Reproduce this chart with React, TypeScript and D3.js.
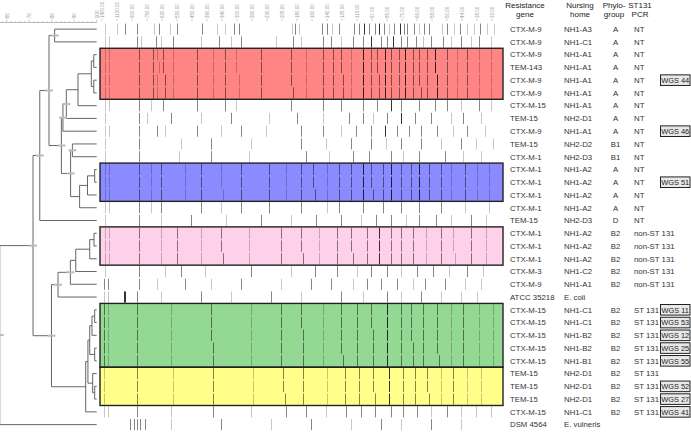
import React from "react";
import * as d3 from "d3";

const W = 691;
const H = 433;
const FONT = "'Liberation Sans', Arial, Helvetica, sans-serif";

// ---- table data ----
const genes = ["CTX-M-9","CTX-M-9","CTX-M-9","TEM-143","CTX-M-9","CTX-M-9","CTX-M-15","TEM-15","CTX-M-9","TEM-15","CTX-M-1","CTX-M-1","CTX-M-1","CTX-M-1","CTX-M-1","TEM-15","CTX-M-1","CTX-M-1","CTX-M-1","CTX-M-3","CTX-M-9","ATCC 35218","CTX-M-15","CTX-M-15","CTX-M-15","CTX-M-15","CTX-M-15","TEM-15","TEM-15","TEM-15","CTX-M-15","DSM 4564"];
const homes = ["NH1-A3","NH1-C1","NH1-A1","NH1-A1","NH1-A1","NH1-A1","NH1-A1","NH2-D1","NH1-A1","NH2-D2","NH2-D3","NH1-A2","NH1-A2","NH1-A2","NH1-A2","NH2-D3","NH1-A2","NH1-A2","NH1-A2","NH1-C2","NH1-A1","E. coli","NH1-C1","NH1-C1","NH1-B2","NH1-B2","NH1-B1","NH2-D1","NH2-D1","NH2-D1","NH1-C1","E. vulneris"];
const phylo = ["A","A","A","A","A","A","A","A","A","B1","B1","A","A","A","A","D","B2","B2","B2","B2","B2","","B2","B2","B2","B2","B2","B2","B2","B2","B2",""];
const st131 = ["NT","NT","NT","NT","NT","NT","NT","NT","NT","NT","NT","NT","NT","NT","NT","NT","non-ST 131","non-ST 131","non-ST 131","non-ST 131","non-ST 131","","ST 131","ST 131","ST 131","ST 131","ST 131","ST 131","ST 131","ST 131","ST 131",""];
const wgs = ["","","","","WGS 44","","","","WGS 46","","","","WGS 51","","","","","","","","","","WGS 11","WGS 53","WGS 12","WGS 25","WGS 55","","WGS 52","WGS 27","WGS 41",""];

// coloured cluster boxes: [first row, last row, fill] (1-based rows)
const clusterBoxes: [number, number, string][] = [
  [3, 6, "#ff8585"],
  [12, 14, "#8b8bff"],
  [17, 19, "#ffd0ea"],
  [23, 27, "#93d993"],
  [28, 30, "#ffff8a"],
];

// ---- dendrogram merges: [node id, left, right, % similarity] ----
const merges: [string, string | number, string | number, number][] = [
  ["a", 1, 2, 81.3],
  ["r1", 3, 4, 98.7],
  ["r2", 5, 6, 98.7],
  ["r3", "r1", "r2", 97.6],
  ["r4", "r3", 7, 91.7],
  ["r5", "r4", 8, 86.5],
  ["r6", "r5", 9, 85.0],
  ["b1", 10, 11, 89.2],
  ["u1", 12, 13, 99.1],
  ["u2", "u1", 14, 95.9],
  ["u3", "u2", 15, 92.4],
  ["b2", "b1", "u3", 88.4],
  ["c1", "r6", "b2", 84.3],
  ["c2", "a", "c1", 78.8],
  ["c3", "c2", 16, 74.7],
  ["p1", 17, 18, 98.8],
  ["p2", "p1", 19, 96.9],
  ["p3", "p2", 20, 90.7],
  ["p4", "p3", 21, 88.3],
  ["p5", "p4", 22, 82.8],
  ["g1", 23, 24, 99.1],
  ["g2", "g1", 25, 97.9],
  ["g3", 26, 27, 99.1],
  ["g4", "g2", "g3", 96.9],
  ["y1", 29, 30, 99.1],
  ["y2", 28, "y1", 98.2],
  ["gy", "g4", "y2", 96.1],
  ["gy2", "gy", 31, 95.1],
  ["d1", "p5", "gy2", 79.9],
  ["c4", "c3", "d1", 71.7],
  ["root", "c4", 32, 56.9],
];

const simTicks = [60, 70, 80, 90, 100];

// gel header size-marker labels
const gelLabels = ["1400.00","1100.00","900.00","750.00","620.00","520.00","450.00","390.00","340.00","300.00","260.00","230.00","205.00","180.00","160.00","140.00","125.00","110.00","97.00","85.00","75.00","66.00","58.00","50.00","44.00","38.00","33.00"];

// band positions (migration units 0-400) with intensity (1-3)
const bands = [
  "4:1 16:1 24:2 36:2 53:1 58:2 69:1 76:2 101:2 116:1 124:1 133:2 138:2 191:1 194:2 198:1 221:2 226:2 231:1 238:2 253:2 258:2 263:3 268:2 274:2 278:3 283:2 288:1 293:2 299:3 303:2 306:2 313:2 318:1 323:2 328:2 341:1 346:2 353:1 359:2 366:1 373:1 379:2 386:1 393:1",
  "4:1 8:1 36:2 40:1 55:2 60:1 72:2 100:1 118:2 130:1 140:2 175:1 192:2 200:1 222:2 230:2 240:1 252:2 262:2 270:3 280:2 286:2 292:3 300:2 306:2 315:2 322:1 330:2 342:2 350:1 360:2 370:1 378:2 390:1",
  "4:1 8:1 38:2 52:2 56:1 62:2 72:1 96:2 112:1 124:2 135:1 160:2 190:2 205:1 222:2 232:2 240:2 250:1 262:3 270:2 276:2 284:3 290:2 298:2 304:3 312:2 318:2 326:2 334:3 346:2 356:1 366:2 378:1 390:1",
  "4:1 8:1 38:2 52:2 58:1 62:2 72:1 96:2 112:1 124:2 135:1 160:2 190:2 205:1 222:2 232:2 240:2 250:1 262:3 270:2 276:2 284:3 290:2 298:2 304:3 312:2 318:2 326:2 334:3 346:2 356:1 366:2 378:1 390:1",
  "4:1 8:1 38:2 52:2 56:1 64:2 72:1 96:2 112:1 124:2 138:1 160:2 190:2 205:1 222:2 232:2 242:2 250:1 262:3 270:2 278:2 284:3 290:2 298:2 304:3 312:2 318:2 326:2 336:3 346:2 356:1 366:2 378:1 390:1",
  "4:1 8:1 38:2 52:2 56:1 64:2 72:1 96:2 112:1 124:2 138:1 160:2 192:2 205:1 222:2 232:2 242:2 250:1 262:3 270:2 278:2 284:3 290:2 298:2 304:3 312:2 320:2 326:2 336:3 346:2 356:1 366:2 378:1 390:1",
  "4:1 8:1 38:2 50:1 62:2 96:2 124:2 135:1 190:2 222:2 240:2 262:2 276:2 290:3 300:2 318:2 334:2 346:2 360:1 378:2 390:1",
  "4:1 38:2 46:1 70:2 100:1 130:2 168:1 196:2 222:1 248:2 262:2 272:1 286:2 300:3 314:2 330:2 350:1 362:2 380:1",
  "4:1 8:1 38:2 56:2 64:1 96:2 120:1 140:2 165:1 200:2 222:2 240:1 255:2 270:2 284:3 296:2 308:2 320:2 336:2 352:1 366:2 384:1",
  "4:1 38:2 80:1 110:2 150:1 200:2 225:1 250:2 270:2 285:1 300:2 320:2 340:1 360:2 375:1 392:1",
  "4:1 38:2 78:1 110:2 148:1 205:2 228:1 252:2 268:2 290:2 302:1 318:2 344:2 362:1 380:1",
  "4:1 8:1 38:2 50:1 60:2 84:1 100:2 120:1 140:2 168:2 185:1 200:2 212:2 226:1 238:2 250:2 262:3 270:2 282:2 290:3 300:2 310:2 318:3 328:2 340:2 350:1 364:2 376:1 388:1",
  "4:1 8:1 38:2 50:1 60:2 84:1 100:2 120:1 140:2 168:2 185:1 200:2 212:2 226:1 238:2 250:2 262:3 270:2 282:2 290:3 300:2 310:2 318:3 328:2 340:2 350:1 364:2 376:1 388:1",
  "4:1 8:1 38:2 50:1 60:2 84:1 100:2 122:1 140:2 168:2 185:1 200:2 214:2 226:1 238:2 250:2 262:3 272:2 282:2 290:3 300:2 310:2 318:3 328:2 340:2 350:1 364:2 376:1 388:1",
  "4:1 8:1 38:2 50:1 60:2 100:2 120:1 140:2 168:2 200:2 226:1 238:2 262:2 282:2 300:2 318:2 340:2 364:1 388:1",
  "4:1 38:2 60:1 90:2 125:1 160:2 190:1 215:2 240:2 260:1 275:2 290:2 305:1 318:2 335:2 350:1 370:2 385:1",
  "4:1 8:1 38:2 60:1 76:2 100:1 120:2 148:1 180:2 200:2 218:1 236:2 250:2 266:2 278:3 290:2 300:2 312:2 325:1 340:2 352:1 370:2 385:1",
  "4:1 8:1 38:2 60:1 76:2 100:1 120:2 148:1 180:2 200:2 218:1 236:2 250:2 266:2 278:3 290:2 300:2 312:2 325:1 340:2 352:1 370:2 385:1",
  "4:1 8:1 38:2 60:1 76:2 100:1 122:2 148:1 180:2 202:2 218:1 236:2 252:2 266:2 278:3 290:2 300:2 312:2 325:1 340:2 354:1 370:2 385:1",
  "4:1 38:2 64:1 80:2 104:1 150:2 190:1 214:2 236:2 256:1 270:2 286:2 300:1 316:2 332:2 348:1 366:2 382:1",
  "3:2 7:2 38:2 56:1 84:2 110:1 140:2 180:1 210:2 230:2 252:1 266:2 280:2 296:2 312:1 324:2 344:2 364:1 380:1",
  "3:1 7:1 23:3 24:3 36:2 60:1 100:2 130:1 170:2 200:1 240:2 262:1 286:2 300:1 320:2 340:1 360:1 376:1",
  "3:2 7:1 36:2 70:1 110:2 150:1 180:2 200:2 222:1 240:2 256:2 270:2 286:3 300:2 310:2 322:2 336:2 350:1 362:2 378:1 392:1",
  "3:2 7:1 36:2 70:1 110:2 150:1 180:2 200:2 222:1 240:2 256:2 270:2 286:3 300:2 310:2 322:2 336:2 350:1 362:2 378:1 392:1",
  "3:2 7:1 36:2 70:1 110:2 150:1 180:2 202:2 222:1 240:2 256:2 272:2 286:3 300:2 310:2 322:2 336:2 350:1 362:2 378:1 392:1",
  "3:2 7:1 36:2 70:1 112:2 150:1 180:2 202:2 222:1 240:2 256:2 272:2 286:3 300:2 312:2 322:2 336:2 350:1 362:2 378:1 392:1",
  "3:2 7:1 36:2 70:1 112:2 150:1 180:2 202:2 222:1 242:2 256:2 272:2 286:3 300:2 312:2 322:2 338:2 350:1 362:2 378:1 392:1",
  "3:1 36:2 72:1 112:2 152:1 182:2 202:2 226:1 244:2 258:2 272:2 288:3 302:2 314:2 326:2 340:1 352:2 366:1 380:1",
  "3:1 36:2 72:1 112:2 152:1 182:2 202:2 226:1 244:2 258:2 272:2 288:3 302:2 314:2 326:2 340:1 352:2 366:1 380:1",
  "3:1 36:2 72:1 112:2 152:1 184:2 202:2 226:1 244:2 258:2 274:2 288:3 302:2 314:2 328:2 340:1 352:2 366:1 380:1",
  "3:1 7:1 36:2 70:1 112:2 150:1 185:2 205:2 225:1 245:2 260:2 274:2 290:2 302:2 316:2 330:1 346:2 360:1 375:1 390:1",
  "29:2 33:2 36:2 39:2 44:2 70:1 120:2 170:1 210:2 250:1 280:2 300:1 330:2 360:1",
];

const parseBands = (s: string) =>
  s.split(" ").map((t) => {
    const [p, i] = t.split(":");
    return { pos: +p, level: i ? +i : 2 };
  });

export default function App() {
  const n = genes.length;
  const rowY = d3.scaleBand<number>().domain(d3.range(n)).range([22.75, 431]);
  const bw = rowY.bandwidth();
  const cy = (i: number) => (rowY(i) as number) + bw / 2;

  const simX = d3.scaleLinear().domain([60, 100]).range([6.7, 96.7]);
  const gelX = d3.scaleLinear().domain([0, 400]).range([101.5, 501.5]);
  const gelLabelX = d3.scalePoint<string>().domain(gelLabels).range([102, 492]);
  const opac = d3.scaleOrdinal<number, number>().domain([1, 2, 3]).range([0.22, 0.48, 0.8]);

  // compute tree geometry
  const pos = new Map<string, { x: number; y: number }>();
  const keyOf = (c: string | number) => (typeof c === "number" ? "L" + c : c);
  for (let i = 0; i < n; i++) pos.set("L" + (i + 1), { x: simX(100), y: cy(i) });
  const treeLines: { x1: number; y1: number; x2: number; y2: number }[] = [];
  const markers: { x: number; y: number }[] = [];
  merges.forEach(([id, l, r, s]) => {
    const a = pos.get(keyOf(l))!;
    const b = pos.get(keyOf(r))!;
    const x = simX(s);
    const y = (a.y + b.y) / 2;
    pos.set(id, { x, y });
    treeLines.push({ x1: x, y1: a.y, x2: x, y2: b.y });
    treeLines.push({ x1: x, y1: a.y, x2: a.x, y2: a.y });
    treeLines.push({ x1: x, y1: b.y, x2: b.x, y2: b.y });
    if (s < 90) markers.push({ x, y });
  });

  const minorTicks = d3.range(58, 100.1, 2);

  const colGene = 510;
  const colHome = 564;
  const colPhylo = 615.5;
  const colSt = 634;
  const boxX = 660.5;
  const boxW = 29.5;

  const boxTop = (a: number) => rowY(a - 1) as number;
  const boxH = (a: number, b: number) => (rowY(b - 1) as number) + bw - (rowY(a - 1) as number);

  return (
    <svg
      width={W}
      height={H}
      style={{ position: "fixed", left: 0, top: 0, background: "#fff" }}
      fontFamily={FONT}
    >
      <rect width={W} height={H} fill="#fff" />

      {/* similarity axis */}
      <line x1={0} x2={simX(100)} y1={22.5} y2={22.5} stroke="#aaa" strokeWidth={0.8} />
      {minorTicks.map((t) => (
        <line key={"mt" + t} x1={simX(t)} x2={simX(t)} y1={22.5} y2={t % 10 === 0 ? 19.5 : 21} stroke="#aaa" strokeWidth={0.6} />
      ))}
      {simTicks.map((t) => (
        <text
          key={"st" + t}
          transform={`translate(${simX(t) + 1.8},18.5) rotate(-90)`}
          fontSize={5}
          fill="#999"
        >
          {t}
        </text>
      ))}

      {/* gel header ruler */}
      {gelLabels.map((l) => (
        <g key={"gl" + l}>
          <text transform={`translate(${(gelLabelX(l) as number) + 1.8},18) rotate(-90)`} fontSize={4.5} fill="#999">
            {l}
          </text>
          <line x1={gelLabelX(l) as number} x2={gelLabelX(l) as number} y1={18.5} y2={21} stroke="#aaa" strokeWidth={0.6} />
        </g>
      ))}

      {/* coloured boxes fill */}
      {clusterBoxes.map(([a, b, c]) => (
        <rect key={"bf" + a} x={gelX(-1.5)} y={boxTop(a)} width={gelX(401.5) - gelX(-1.5)} height={boxH(a, b)} fill={c} />
      ))}

      {/* bands */}
      {bands.map((s, i) =>
        parseBands(s).map((b, j) => (
          <line
            key={`b${i}-${j}`}
            x1={gelX(b.pos)}
            x2={gelX(b.pos)}
            y1={(rowY(i) as number) + 0.8}
            y2={(rowY(i) as number) + bw - 0.8}
            stroke="#000"
            strokeOpacity={opac(b.level)}
            strokeWidth={1}
          />
        ))
      )}

      {/* box outlines */}
      {clusterBoxes.map(([a, b]) => (
        <rect key={"bo" + a} x={gelX(-1.5)} y={boxTop(a)} width={gelX(401.5) - gelX(-1.5)} height={boxH(a, b)} fill="none" stroke="#222" strokeWidth={1.4} />
      ))}

      {/* dendrogram */}
      {treeLines.map((l, i) => (
        <line key={"tl" + i} {...l} stroke="#555" strokeWidth={0.9} />
      ))}
      {markers.map((m, i) => (
        <rect key={"mk" + i} x={m.x - 4} y={m.y - 1} width={8} height={2} fill="#bbb" />
      ))}

      {/* headers */}
      <g fontSize={8} fill="#222" textAnchor="middle">
        <text x={525} y={8}>Resistance</text>
        <text x={525} y={17}>gene</text>
        <text x={580} y={8}>Nursing</text>
        <text x={580} y={17}>home</text>
        <text x={614} y={8}>Phylo-</text>
        <text x={614} y={17}>group</text>
        <text x={640} y={8}>ST131</text>
        <text x={640} y={17}>PCR</text>
      </g>

      {/* rows text */}
      <g fontSize={7.8} fill="#333">
        {genes.map((g, i) => (
          <g key={"r" + i}>
            <text x={colGene} y={cy(i) + 2.8}>{g}</text>
            <text x={colHome} y={cy(i) + 2.8}>{homes[i]}</text>
            <text x={colPhylo} y={cy(i) + 2.8} textAnchor="middle">{phylo[i]}</text>
            <text x={colSt} y={cy(i) + 2.8}>{st131[i]}</text>
          </g>
        ))}
      </g>

      {/* WGS labels */}
      {wgs.map((w, i) =>
        w ? (
          <g key={"w" + i}>
            <rect
              x={boxX}
              y={cy(i) - 5.3}
              width={boxW}
              height={10.6}
              fill="#e8e8e8"
              stroke="#222"
              strokeWidth={1}
            />
            <text x={boxX + boxW / 2} y={cy(i) + 2.7} fontSize={7.4} textAnchor="middle" fill="#222">
              {w}
            </text>
          </g>
        ) : null
      )}
    </svg>
  );
}
